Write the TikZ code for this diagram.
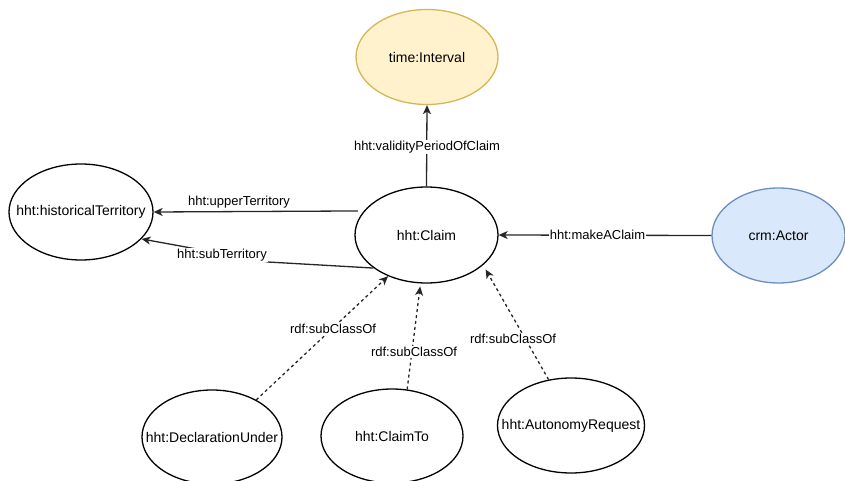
\documentclass[tikz,border=0pt]{standalone}
\usepackage{fontspec}
\setmainfont{Liberation Sans}
\usetikzlibrary{shapes.geometric,arrows.meta}
\definecolor{yelfill}{HTML}{FFF2CC}
\definecolor{yelline}{HTML}{D6B656}
\definecolor{bluefill}{HTML}{DAE8FC}
\definecolor{blueline}{HTML}{6C8EBF}
\newcommand{\zb}[1]{\makebox[0pt]{#1}}
\tikzset{
  cls/.style={ellipse, draw=black, line width=1.3pt, inner sep=0pt, fill=white,
    font=\fontsize{14}{16}\selectfont},
  rel/.style={line width=1.3pt, draw=black!85, -{Stealth[length=9pt,width=8pt,inset=2.5pt]}},
  sub/.style={rel, dash pattern=on 3pt off 3pt},
  lbl/.style={font=\fontsize{13}{15}\selectfont, inner sep=1pt, fill=white},
}
\begin{document}
\begin{tikzpicture}[x=1pt,y=-1pt]
\useasboundingbox (0,0) rectangle (845,481);
% nodes
\node[cls, fill=yelfill, draw=yelline, minimum width=142pt, minimum height=95pt] (interval) at (427,57) {\zb{time:Interval}};
\node[cls, minimum width=143pt, minimum height=96pt] (claim) at (426.5,235) {\zb{hht:Claim}};
\node[cls, minimum width=144pt, minimum height=96pt] (hist) at (81,212) {\zb{hht:historicalTerritory}};
\node[cls, fill=bluefill, draw=blueline, minimum width=133pt, minimum height=95pt] (actor) at (778.5,235.5) {\zb{crm:Actor}};
\node[cls, minimum width=140pt, minimum height=94pt] (decl) at (212,437) {\zb{hht:DeclarationUnder}};
\node[cls, minimum width=142pt, minimum height=94pt] (claimto) at (392,436) {\zb{hht:ClaimTo}};
\node[cls, minimum width=147pt, minimum height=95pt] (auto) at (571,425.5) {\zb{hht:AutonomyRequest}};
\coordinate (bend) at (268,262);
% edges
\draw[rel] (claim.north) -- (interval.south);
\node[lbl] (vlbl) at (427,147) {hht:validityPeriodOfClaim};
\draw[rel, shorten <=6pt] (claim.159) -- (hist.east);
\node[lbl, fill=none] (ulbl) at (239,202) {hht:upperTerritory};
\draw[rel] (claim.212) -- (bend) -- (hist.-24);
\node[lbl] (slbl) at (222,255) {hht:subTerritory};
\draw[rel] (actor.west) -- (claim.east);
\node[lbl] (mlbl) at (597.5,235) {hht:makeAClaim};
\draw[sub] (decl.40) -- (claim.227);
\node[lbl] (d1) at (333,329) {rdf:subClassOf};
\draw[sub, shorten >=3pt] (claimto.72) -- (claim.263);
\node[lbl] (d2) at (414,352) {rdf:subClassOf};
\draw[sub, shorten >=5pt] (auto.116) -- (claim.-28);
\node[lbl] (d3) at (513,339) {rdf:subClassOf};
\end{tikzpicture}
\end{document}
